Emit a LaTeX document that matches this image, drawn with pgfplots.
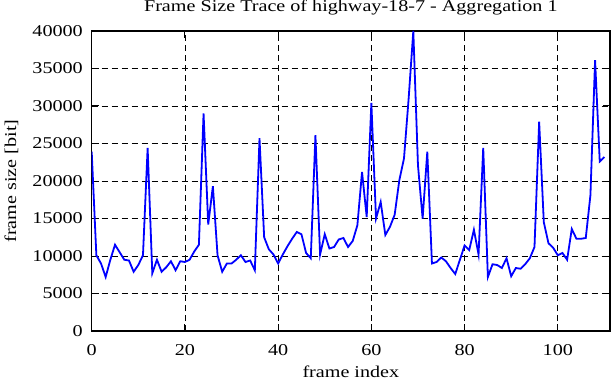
\documentclass[border=0pt]{standalone}
\usepackage{pgfplots}
\pgfplotsset{compat=1.18}
\usepackage{fontspec}
\setmainfont{Liberation Serif}[FakeStretch=1.22]
\begin{document}
\fontsize{16.5bp}{19bp}\selectfont
\begin{tikzpicture}
\useasboundingbox (-91.7bp,-51bp) rectangle (520.3bp,331bp);
\begin{axis}[
  at={(0,0)}, anchor=south west,
  scale only axis, width=518.3bp, height=300bp,
  xmin=0, xmax=111.2, ymin=0, ymax=40000,
  xtick={0,20,40,60,80,100},
  ytick={0,5000,10000,15000,20000,25000,30000,35000,40000},
  /pgf/number format/1000 sep={},
  /pgf/number format/assume math mode=true,
  scaled y ticks=false,
  tick align=inside,
  major tick length=7bp,
  tick style={line width=1bp, black},
  axis line style={line width=1.6bp},
  grid=major,
  major grid style={black, line width=0.8bp, dash pattern=on 6bp off 4bp},
  ticklabel style={font=\fontsize{16.5bp}{19bp}\selectfont, inner sep=0pt},
  xticklabel style={anchor=base, yshift=-24bp},
  yticklabel style={anchor=east, xshift=-8.7bp},
  title={Frame Size Trace of highway-18-7 - Aggregation 1},
  title style={font=\fontsize{16.5bp}{19bp}\selectfont, at={(axis description cs:0.5,1.045)}, anchor=base, inner sep=0pt},
  xlabel={frame index},
  ylabel={frame size [bit]},
  label style={font=\fontsize{16.5bp}{19bp}\selectfont, inner sep=0pt},
  xlabel style={at={(axis description cs:0.5,-0.1557)}, anchor=base},
  ylabel style={at={(axis description cs:-0.146,0.5)}, anchor=base, rotate=0},
]
\addplot[color={rgb,255:red,0;green,0;blue,255}, line width=1.8bp] coordinates {
(0,23900) (1,10100) (2,9000) (3,7200) (4,9500) (5,11500) (6,10500) (7,9500) (8,9400) (9,7900)
(10,8800) (11,10100) (12,24400) (13,7700) (14,9500) (15,7900) (16,8500) (17,9300) (18,8100) (19,9300)
(20,9200) (21,9500) (22,10600) (23,11500) (24,29000) (25,14200) (26,19300) (27,10100) (28,7900) (29,9000)
(30,9000) (31,9500) (32,10100) (33,9200) (34,9400) (35,8100) (36,25700) (37,12500) (38,10900) (39,10200)
(40,9000) (41,10200) (42,11300) (43,12300) (44,13200) (45,12900) (46,10400) (47,9700) (48,26100) (49,10200)
(50,12900) (51,11000) (52,11200) (53,12200) (54,12400) (55,11200) (56,12000) (57,14100) (58,21200) (59,15200)
(60,30400) (61,15000) (62,17200) (63,12800) (64,13900) (65,15500) (66,20100) (67,23000) (68,31000) (69,40000)
(70,22100) (71,15000) (72,23900) (73,9000) (74,9200) (75,9800) (76,9300) (77,8400) (78,7600) (79,9500)
(80,11400) (81,10800) (82,13500) (83,10200) (84,24400) (85,7200) (86,8900) (87,8800) (88,8400) (89,9700)
(90,7300) (91,8400) (92,8300) (93,8900) (94,9700) (95,11200) (96,27900) (97,14500) (98,11700) (99,11100)
(100,10100) (101,10400) (102,9500) (103,13600) (104,12300) (105,12300) (106,12400) (107,18100) (108,36100) (109,22600)
(110,23200)
};
\end{axis}
\end{tikzpicture}
\end{document}
